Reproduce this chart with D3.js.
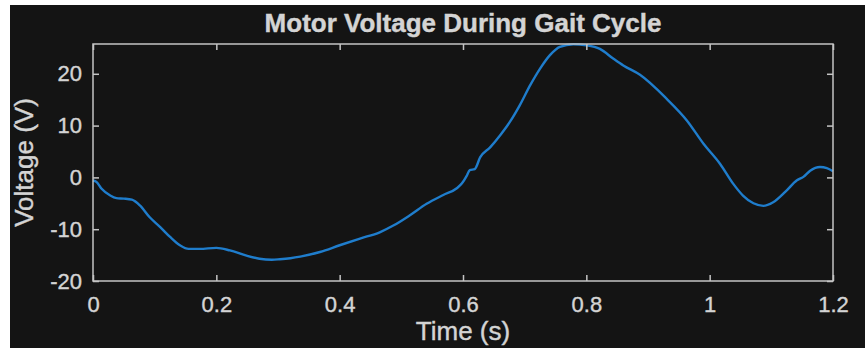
<!DOCTYPE html>
<html>
<head>
<meta charset="utf-8">
<script src="https://cdn.jsdelivr.net/npm/d3@7"></script>
<style>
  body { margin: 0; background: #ffffff; }
  svg { display: block; }
  .ax text { fill: #d4d4d4; stroke: #d4d4d4; stroke-width: 0.4; font-family: "Liberation Sans", Arial, sans-serif; font-size: 22px; }
  .ax path, .ax line { stroke: #c4c4c4; stroke-width: 1.5; }
  .lbl { fill: #d4d4d4; stroke: #d4d4d4; stroke-width: 0.4; font-family: "Liberation Sans", Arial, sans-serif; }
</style>
</head>
<body>
<div id="chart"></div>
<script>
// motor voltage, time in seconds
var timeS = [0.000, 0.006, 0.014, 0.028, 0.038, 0.050, 0.063, 0.076, 0.092, 0.109,
             0.125, 0.141, 0.155, 0.173, 0.200, 0.222, 0.249, 0.270, 0.290, 0.303,
             0.320, 0.336, 0.368, 0.400, 0.433, 0.465, 0.487, 0.514, 0.541, 0.568,
             0.590, 0.598, 0.606, 0.611, 0.619, 0.628, 0.644, 0.660, 0.676, 0.692,
             0.709, 0.725, 0.741, 0.757, 0.779, 0.800, 0.822, 0.844, 0.860, 0.887,
             0.930, 0.963, 0.990, 1.017, 1.038, 1.054, 1.071, 1.087, 1.103, 1.125,
             1.141, 1.152, 1.163, 1.179, 1.190, 1.200];
var voltageV = [-0.6, -0.9, -2.2, -3.5, -4.0, -4.1, -4.3, -5.4, -7.7, -9.6,
                -11.5, -13.1, -13.8, -13.8, -13.6, -14.1, -15.1, -15.7, -15.9, -15.8,
                -15.6, -15.3, -14.4, -13.1, -11.8, -10.6, -9.3, -7.3, -5.1, -3.4,
                -2.1, -1.2, 0.3, 1.4, 1.6, 3.9, 5.8, 8.1, 10.7, 13.9,
                17.8, 21.0, 23.6, 25.2, 25.7, 25.5, 24.8, 22.9, 21.6, 19.8,
                15.2, 11.0, 6.5, 2.6, -1.2, -3.5, -5.0, -5.5, -4.8, -2.5,
                -0.6, 0.1, 1.3, 2.0, 1.8, 1.2];
var xTicks = [0, 0.2, 0.4, 0.6, 0.8, 1, 1.2];
var yTicks = [-20, -10, 0, 10, 20];

var W = 865, H = 348;
var box = {left: 93, right: 833, top: 44, bottom: 281};

var svg = d3.select("#chart").append("svg")
    .attr("width", W)
    .attr("height", H);

// dark figure background (white strip on left/top like the screenshot)
svg.append("rect")
    .attr("x", 10).attr("y", 5)
    .attr("width", W - 10).attr("height", H - 5)
    .attr("fill", "#141414");

var x = d3.scaleLinear().domain([0, 1.2]).range([box.left, box.right]);
var y = d3.scaleLinear().domain([-20, 25.75]).range([box.bottom, box.top]);

var data = timeS.map(function(t, i) { return {t: t, v: voltageV[i]}; });

// curve first, box + ticks drawn on top
svg.append("path")
    .datum(data)
    .attr("fill", "none")
    .attr("stroke", "#1f7dcc")
    .attr("stroke-width", 2.4)
    .attr("stroke-linejoin", "round")
    .attr("d", d3.line()
        .x(function(d) { return x(d.t); })
        .y(function(d) { return y(d.v); })
        .curve(d3.curveMonotoneX));

// plain hyphen minus, like matlab
var fmt = function(d) { return String(d); };

svg.append("g").attr("class", "ax")
    .attr("transform", "translate(0," + box.bottom + ")")
    .call(d3.axisBottom(x).tickValues(xTicks).tickFormat(fmt)
        .tickSizeInner(-6).tickSizeOuter(0).tickPadding(15));

svg.append("g").attr("class", "ax")
    .attr("transform", "translate(0," + box.top + ")")
    .call(d3.axisTop(x).tickValues(xTicks).tickFormat("")
        .tickSizeInner(-6).tickSizeOuter(0));

svg.append("g").attr("class", "ax")
    .attr("transform", "translate(" + box.left + ",0)")
    .call(d3.axisLeft(y).tickValues(yTicks).tickFormat(fmt)
        .tickSizeInner(-6).tickSizeOuter(0).tickPadding(11));

svg.append("g").attr("class", "ax")
    .attr("transform", "translate(" + box.right + ",0)")
    .call(d3.axisRight(y).tickValues(yTicks).tickFormat("")
        .tickSizeInner(-6).tickSizeOuter(0));

svg.selectAll(".ax .domain").remove();

svg.append("rect")
    .attr("x", box.left).attr("y", box.top)
    .attr("width", box.right - box.left).attr("height", box.bottom - box.top)
    .attr("fill", "none")
    .attr("stroke", "#c4c4c4")
    .attr("stroke-width", 1.5);

// labels
svg.append("text").attr("class", "lbl")
    .attr("x", (box.left + box.right) / 2)
    .attr("y", 32)
    .attr("text-anchor", "middle")
    .style("font-size", "26px")
    .style("font-weight", "bold")
    .text("Motor Voltage During Gait Cycle");

svg.append("text").attr("class", "lbl")
    .attr("x", (box.left + box.right) / 2)
    .attr("y", 340)
    .attr("text-anchor", "middle")
    .style("font-size", "26px")
    .text("Time (s)");

svg.append("text").attr("class", "lbl")
    .attr("transform", "translate(33," + (box.top + box.bottom) / 2 + ") rotate(-90)")
    .attr("text-anchor", "middle")
    .style("font-size", "26px")
    .text("Voltage (V)");
</script>
</body>
</html>
